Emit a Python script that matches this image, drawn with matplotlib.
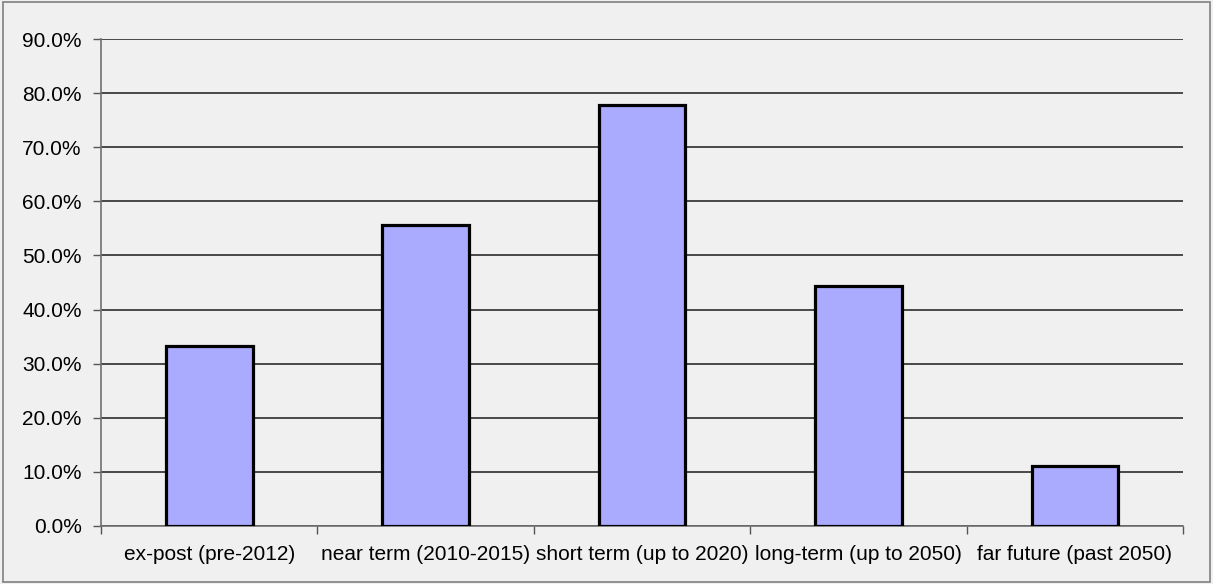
import matplotlib
matplotlib.use("Agg")
import matplotlib.pyplot as plt
import numpy as np
from matplotlib.patches import Rectangle
from matplotlib.ticker import FixedLocator, PercentFormatter

categories = ['ex-post (pre-2012)', 'near term (2010-2015)', 'short term (up to 2020)',
              'long-term (up to 2050)', 'far future (past 2050)']
shares = [33.3, 55.6, 77.8, 44.4, 11.1]
y_ticks = [0, 10, 20, 30, 40, 50, 60, 70, 80, 90]

plt.rcParams['font.family'] = ['Liberation Sans', 'DejaVu Sans']
bg = '#f0f0f0'

fig = plt.figure(figsize=(12.13, 5.84), dpi=100, facecolor=bg)
ax = fig.add_axes([0.0833, 0.0998, 0.8920, 0.8329], facecolor=bg)

# outer chart frame
fig.patches.append(Rectangle((0.0025, 0.004), 0.995, 0.992, transform=fig.transFigure,
                             fill=False, edgecolor='#808080', linewidth=1.2))

x = np.arange(len(categories))
ax.bar(x, shares, width=0.4, color='#aaaaff', edgecolor='black', linewidth=2.3, zorder=3)

ax.set_ylim(0, 90)
ax.set_xlim(-0.5, len(categories) - 0.5)
ax.set_yticks(y_ticks)
ax.yaxis.set_major_formatter(PercentFormatter(decimals=1))
ax.yaxis.grid(True, color='#1a1a1a', linewidth=1.1)
ax.set_axisbelow(True)

ax.set_xticks(x)
ax.set_xticklabels(categories)
ax.xaxis.set_minor_locator(FixedLocator(np.arange(-0.5, len(categories), 1.0)))
ax.tick_params(axis='x', which='major', length=0, pad=14, labelsize=15)
ax.tick_params(axis='x', which='minor', length=6, width=1, color='#555555', direction='out')
ax.tick_params(axis='y', length=6, width=1, color='#555555', pad=8, labelsize=15)

for side in ('top', 'right'):
    ax.spines[side].set_visible(False)
for side in ('left', 'bottom'):
    ax.spines[side].set_color('#707070')
    ax.spines[side].set_linewidth(1.2)

fig.savefig('out.png', dpi=100, facecolor=bg)
